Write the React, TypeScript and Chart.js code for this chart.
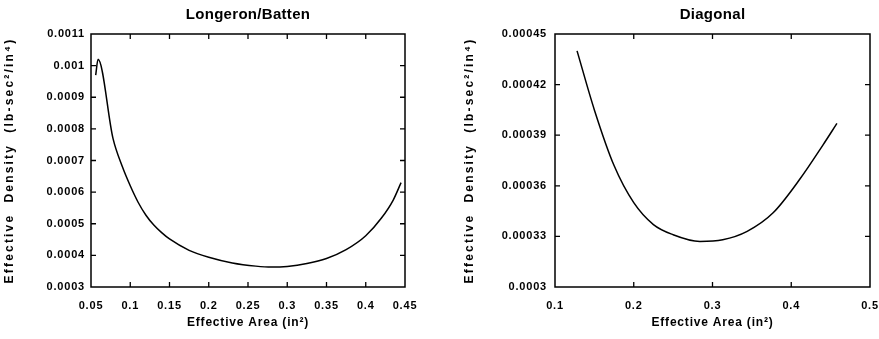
import React, { useEffect, useRef } from 'react';
import { Chart, registerables } from 'chart.js';

Chart.register(...registerables);

// ---------- data ----------
const LB_TITLE = 'Longeron/Batten';
const DG_TITLE = 'Diagonal';
const Y_TITLE = 'Effective  Density  (lb-sec²/in⁴)';
const X_TITLE = 'Effective Area (in²)';

const lbArea = [0.056, 0.059, 0.078, 0.09, 0.1, 0.11, 0.12, 0.13, 0.14, 0.15, 0.175, 0.2, 0.23, 0.26, 0.28, 0.3, 0.325, 0.35, 0.375, 0.4, 0.42, 0.435, 0.445];
const lbDensity = [0.00097, 0.00102, 0.00077, 0.00068, 0.00062, 0.000568, 0.000527, 0.000496, 0.000472, 0.000452, 0.000416, 0.000394, 0.000376, 0.000366, 0.000363, 0.000365, 0.000374, 0.00039, 0.000418, 0.000462, 0.000518, 0.000575, 0.00063];

const dgArea = [0.128, 0.15, 0.175, 0.2, 0.225, 0.25, 0.284, 0.313, 0.344, 0.377, 0.411, 0.44, 0.458];
const dgDensity = [0.00044, 0.000405, 0.000372, 0.00035, 0.000337, 0.000331, 0.000327, 0.000328, 0.000333, 0.000344, 0.000364, 0.000384, 0.000397];

const lbXTicks = [0.05, 0.1, 0.15, 0.2, 0.25, 0.3, 0.35, 0.4, 0.45];
const lbXLabels = ['0.05', '0.1', '0.15', '0.2', '0.25', '0.3', '0.35', '0.4', '0.45'];
const lbYTicks = [0.0003, 0.0004, 0.0005, 0.0006, 0.0007, 0.0008, 0.0009, 0.001, 0.0011];
const lbYLabels = ['0.0003', '0.0004', '0.0005', '0.0006', '0.0007', '0.0008', '0.0009', '0.001', '0.0011'];

const dgXTicks = [0.1, 0.2, 0.3, 0.4, 0.5];
const dgXLabels = ['0.1', '0.2', '0.3', '0.4', '0.5'];
const dgYTicks = [0.0003, 0.00033, 0.00036, 0.00039, 0.00042, 0.00045];
const dgYLabels = ['0.0003', '0.00033', '0.00036', '0.00039', '0.00042', '0.00045'];

const FONT = '"Liberation Sans", Arial, Helvetica, sans-serif';

const framePlugin = {
  id: 'frame',
  beforeDraw(chart: any) {
    chart.ctx.letterSpacing = '0.8px';
  },
  afterDraw(chart: any, _args: any, opts: any) {
    const { ctx, chartArea: a, scales } = chart;
    ctx.save();
    ctx.letterSpacing = '0px';
    ctx.strokeStyle = '#000';
    ctx.lineWidth = 1.5;
    ctx.strokeRect(a.left, a.top, a.right - a.left, a.bottom - a.top);
    const L = 5;
    ctx.lineWidth = 1.3;
    ctx.beginPath();
    scales.x.ticks.forEach((t: any) => {
      const px = scales.x.getPixelForValue(t.value);
      if (px <= a.left + 1 || px >= a.right - 1) return;
      ctx.moveTo(px, a.bottom);
      ctx.lineTo(px, a.bottom - L);
      ctx.moveTo(px, a.top);
      ctx.lineTo(px, a.top + L);
    });
    scales.y.ticks.forEach((t: any) => {
      const py = scales.y.getPixelForValue(t.value);
      if (py <= a.top + 1 || py >= a.bottom - 1) return;
      ctx.moveTo(a.left, py);
      ctx.lineTo(a.left + L, py);
      ctx.moveTo(a.right, py);
      ctx.lineTo(a.right - L, py);
    });
    ctx.stroke();

    ctx.fillStyle = '#000';
    ctx.textAlign = 'center';
    ctx.textBaseline = 'middle';
    ctx.font = `bold 15px ${FONT}`;
    ctx.letterSpacing = '0.3px';
    ctx.fillText(opts.title, (a.left + a.right) / 2, 15);

    ctx.font = `bold 12px ${FONT}`;
    ctx.letterSpacing = '2.2px';
    ctx.translate(opts.yTitleX, (a.top + a.bottom) / 2);
    ctx.rotate(-Math.PI / 2);
    ctx.fillText(opts.yTitle, 0, 0);
    ctx.restore();
  },
};

function makeConfig(p: any): any {
  const data = p.xs.map((x: number, i: number) => ({ x, y: p.ys[i] }));
  return {
    type: 'line',
    data: {
      datasets: [
        {
          data,
          borderColor: '#000',
          borderWidth: 1.5,
          pointRadius: 0,
          fill: false,
          cubicInterpolationMode: 'monotone',
        },
      ],
    },
    plugins: [framePlugin],
    options: {
      responsive: false,
      maintainAspectRatio: false,
      animation: false,
      layout: { padding: { left: 0, right: p.padRight, top: 34, bottom: 0 } },
      plugins: {
        legend: { display: false },
        tooltip: { enabled: false },
        title: { display: false },
        frame: { title: p.title, yTitle: Y_TITLE, yTitleX: p.yTitleX },
      },
      scales: {
        x: {
          type: 'linear',
          min: p.xTicks[0],
          max: p.xTicks[p.xTicks.length - 1],
          afterBuildTicks: (s: any) => {
            s.ticks = p.xTicks.map((v: number) => ({ value: v }));
          },
          afterFit: (s: any) => {
            s.height = 52;
            s.paddingLeft = 0;
            s.paddingRight = 0;
          },
          grid: { display: false, drawTicks: false },
          border: { display: false },
          ticks: {
            autoSkip: false,
            maxRotation: 0,
            padding: 12,
            color: '#000',
            font: { family: FONT, size: 11, weight: 'bold' },
            callback: (_v: any, i: number) => p.xLabels[i],
          },
          title: {
            display: true,
            text: X_TITLE,
            color: '#000',
            font: { family: FONT, size: 12, weight: 'bold' },
            padding: { top: 0, bottom: 9 },
          },
        },
        y: {
          type: 'linear',
          min: p.yTicks[0],
          max: p.yTicks[p.yTicks.length - 1],
          afterBuildTicks: (s: any) => {
            s.ticks = p.yTicks.map((v: number) => ({ value: v }));
          },
          afterFit: (s: any) => {
            s.width = p.yWidth;
            s.paddingTop = 0;
            s.paddingBottom = 0;
          },
          grid: { display: false, drawTicks: false },
          border: { display: false },
          ticks: {
            autoSkip: false,
            padding: p.yPad,
            color: '#000',
            font: { family: FONT, size: 11, weight: 'bold' },
            callback: (_v: any, i: number) => p.yLabels[i],
          },
        },
      },
    },
  };
}

function ChartCanvas(props: { cfg: any; left: number; width: number }) {
  const ref = useRef<HTMLCanvasElement>(null);
  useEffect(() => {
    if (!ref.current) return;
    const chart = new Chart(ref.current, makeConfig(props.cfg));
    return () => chart.destroy();
  }, []);
  return (
    <canvas
      ref={ref}
      width={props.width}
      height={339}
      style={{ position: 'absolute', left: props.left, top: 0, width: props.width, height: 339 }}
    />
  );
}

export default function App() {
  const left = {
    xs: lbArea,
    ys: lbDensity,
    xTicks: lbXTicks,
    xLabels: lbXLabels,
    yTicks: lbYTicks,
    yLabels: lbYLabels,
    title: LB_TITLE,
    yWidth: 91,
    padRight: 35,
    yPad: 6,
    yTitleX: 10,
  };
  const right = {
    xs: dgArea,
    ys: dgDensity,
    xTicks: dgXTicks,
    xLabels: dgXLabels,
    yTicks: dgYTicks,
    yLabels: dgYLabels,
    title: DG_TITLE,
    yWidth: 115,
    padRight: 9,
    yPad: 8,
    yTitleX: 30,
  };
  return (
    <div style={{ position: 'absolute', left: 0, top: 0, width: 879, height: 339, background: '#fff' }}>
      <ChartCanvas cfg={left} left={0} width={440} />
      <ChartCanvas cfg={right} left={440} width={439} />
    </div>
  );
}
